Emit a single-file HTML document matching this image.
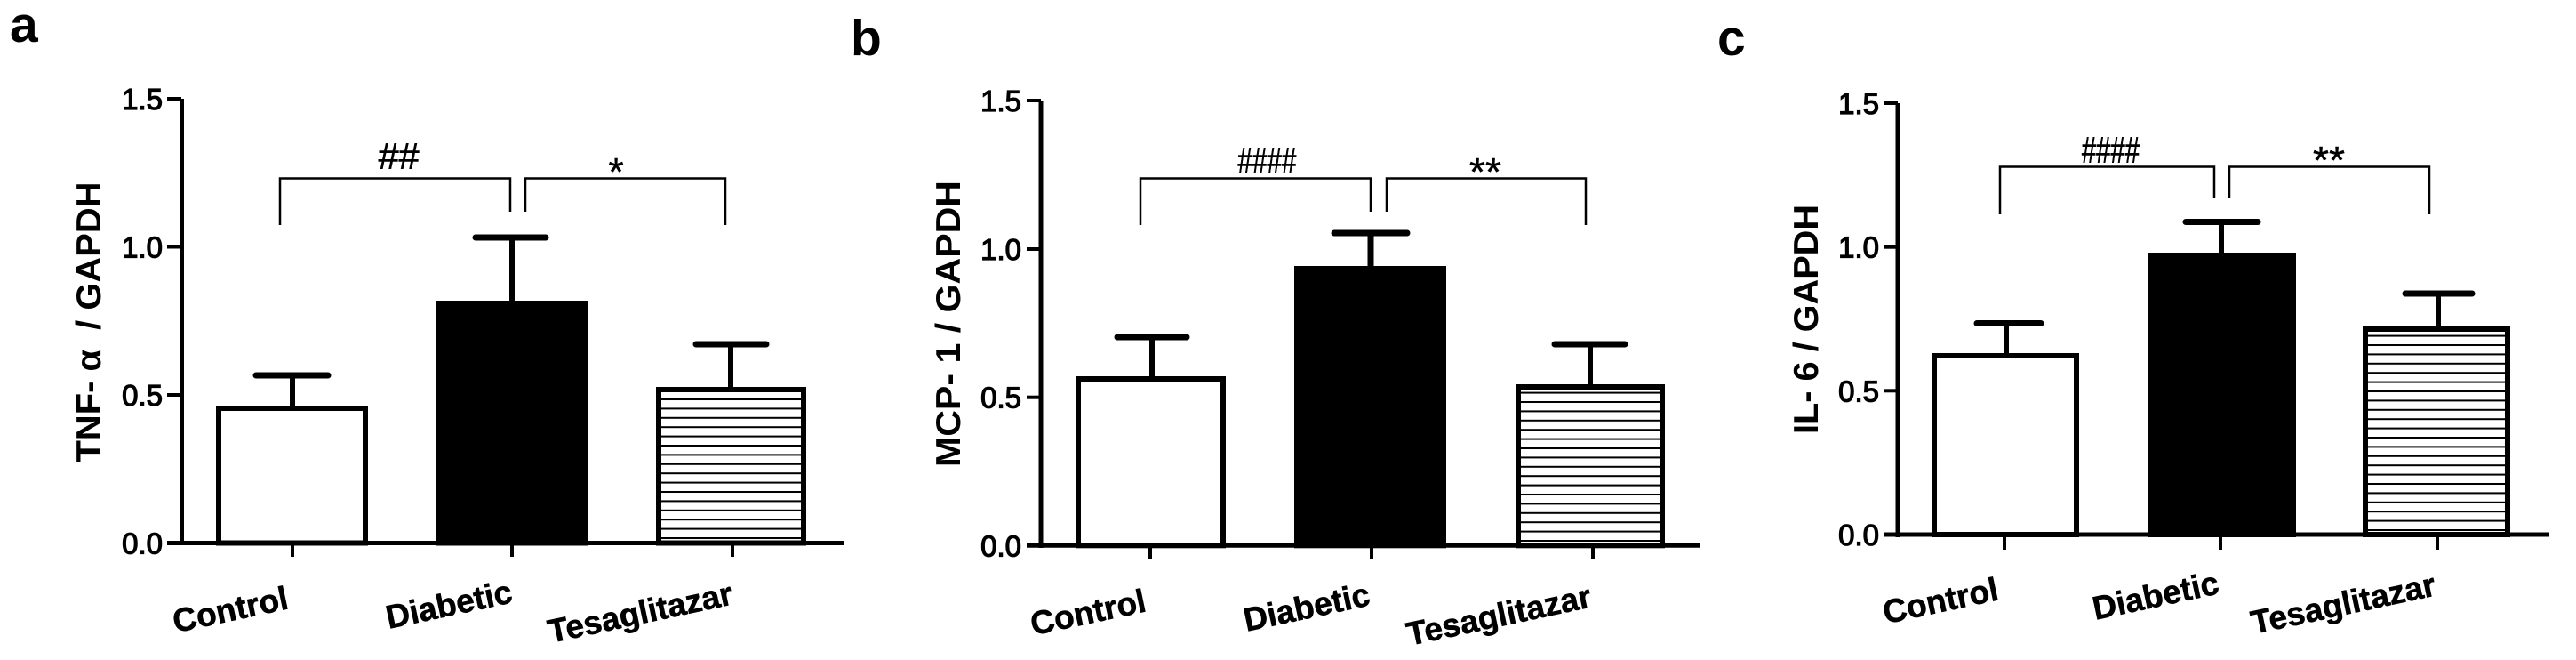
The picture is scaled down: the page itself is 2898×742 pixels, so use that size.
<!DOCTYPE html>
<html>
<head>
<meta charset="utf-8">
<style>
html,body{margin:0;padding:0;background:#fff;}
svg{display:block;}
text{font-family:"Liberation Sans", Arial, sans-serif;fill:#000;}
.tick{font-size:33px;stroke:#000;stroke-width:1.2px;}
.xl{font-size:37px;font-weight:bold;stroke:#000;stroke-width:0.6px;}
.yt{font-size:39px;font-weight:bold;}
.pl{font-size:57px;font-weight:bold;}
.hash{font-size:42px;font-style:italic;stroke:#000;stroke-width:0.6px;}
.ast{font-size:44px;stroke:#000;stroke-width:0.5px;}
</style>
</head>
<body>
<svg width="2898" height="742" viewBox="0 0 2898 742" xmlns="http://www.w3.org/2000/svg">
<defs>
  <pattern id="ha" patternUnits="userSpaceOnUse" x="0" y="604" width="20" height="10.4">
    <rect x="0" y="0" width="20" height="2" fill="#000"/>
  </pattern>
  <pattern id="hb" patternUnits="userSpaceOnUse" x="0" y="607" width="20" height="10.4">
    <rect x="0" y="0" width="20" height="2" fill="#000"/>
  </pattern>
  <pattern id="hc" patternUnits="userSpaceOnUse" x="0" y="595" width="20" height="10.4">
    <rect x="0" y="0" width="20" height="2" fill="#000"/>
  </pattern>
</defs>
<rect width="2898" height="742" fill="#fff"/>

<!-- ================= Panel a ================= -->
<text class="pl" x="11" y="47">a</text>
<text class="yt" transform="translate(113,362) rotate(-90)" text-anchor="middle" textLength="315" lengthAdjust="spacingAndGlyphs" xml:space="preserve">TNF- α  / GAPDH</text>
<g stroke="#000" fill="none">
  <line x1="204.5" y1="111" x2="204.5" y2="613" stroke-width="5"/>
  <line x1="188" y1="610.5" x2="949" y2="610.5" stroke-width="5"/>
  <line x1="188" y1="111" x2="204" y2="111" stroke-width="4"/>
  <line x1="188" y1="277.5" x2="204" y2="277.5" stroke-width="4"/>
  <line x1="188" y1="444" x2="204" y2="444" stroke-width="4"/>
  <line x1="329" y1="610" x2="329" y2="626" stroke-width="4"/>
  <line x1="576" y1="610" x2="576" y2="626" stroke-width="4"/>
  <line x1="824" y1="610" x2="824" y2="626" stroke-width="4"/>
  <polyline points="315,253 315,200.5 574,200.5 574,238" stroke-width="2.5"/>
  <polyline points="591,238 591,200.5 816,200.5 816,253" stroke-width="2.5"/>
  <line x1="329" y1="458" x2="329" y2="422" stroke-width="6"/>
  <line x1="288" y1="422" x2="369" y2="422" stroke-width="7" stroke-linecap="round"/>
  <line x1="576" y1="340" x2="576" y2="267" stroke-width="6"/>
  <line x1="535" y1="267" x2="614" y2="267" stroke-width="7" stroke-linecap="round"/>
  <line x1="822" y1="437" x2="822" y2="387" stroke-width="6"/>
  <line x1="783" y1="387" x2="862" y2="387" stroke-width="7" stroke-linecap="round"/>
</g>
<rect x="246" y="459" width="165" height="151.5" fill="#fff" stroke="#000" stroke-width="6"/>
<rect x="493" y="341" width="166" height="269.5" fill="#000" stroke="#000" stroke-width="6"/>
<rect x="741" y="438" width="163" height="172.5" fill="#fff"/>
<rect x="741" y="438" width="163" height="172.5" fill="url(#ha)" stroke="#000" stroke-width="6"/>
<text class="tick" x="183" y="123" text-anchor="end">1.5</text>
<text class="tick" x="183" y="289.5" text-anchor="end">1.0</text>
<text class="tick" x="183" y="456" text-anchor="end">0.5</text>
<text class="tick" x="183" y="622.5" text-anchor="end">0.0</text>
<text class="hash" x="448" y="190" text-anchor="middle" textLength="46" lengthAdjust="spacingAndGlyphs">##</text>
<text class="ast" x="693" y="208" text-anchor="middle">*</text>
<text class="xl" text-anchor="end" transform="translate(326,684) rotate(-12)">Control</text>
<text class="xl" text-anchor="end" transform="translate(578,677) rotate(-12)">Diabetic</text>
<text class="xl" text-anchor="end" transform="translate(826,679) rotate(-12)">Tesaglitazar</text>

<!-- ================= Panel b ================= -->
<text class="pl" x="957" y="62">b</text>
<text class="yt" transform="translate(1080,364) rotate(-90)" text-anchor="middle" textLength="322" lengthAdjust="spacingAndGlyphs" xml:space="preserve">MCP- 1 / GAPDH</text>
<g stroke="#000" fill="none">
  <line x1="1171" y1="113" x2="1171" y2="616" stroke-width="5"/>
  <line x1="1155" y1="613.3" x2="1912" y2="613.3" stroke-width="5"/>
  <line x1="1155" y1="113" x2="1171" y2="113" stroke-width="4"/>
  <line x1="1155" y1="280" x2="1171" y2="280" stroke-width="4"/>
  <line x1="1155" y1="446.7" x2="1171" y2="446.7" stroke-width="4"/>
  <line x1="1294" y1="613" x2="1294" y2="629" stroke-width="4"/>
  <line x1="1543" y1="613" x2="1543" y2="629" stroke-width="4"/>
  <line x1="1792" y1="613" x2="1792" y2="629" stroke-width="4"/>
  <polyline points="1283,253 1283,200.5 1542,200.5 1542,238" stroke-width="2.5"/>
  <polyline points="1560,238 1560,200.5 1784,200.5 1784,253" stroke-width="2.5"/>
  <line x1="1296" y1="425" x2="1296" y2="379" stroke-width="6"/>
  <line x1="1257" y1="379" x2="1335" y2="379" stroke-width="7" stroke-linecap="round"/>
  <line x1="1542" y1="301" x2="1542" y2="262" stroke-width="7"/>
  <line x1="1501" y1="262" x2="1583" y2="262" stroke-width="7" stroke-linecap="round"/>
  <line x1="1789" y1="434" x2="1789" y2="387" stroke-width="6"/>
  <line x1="1749" y1="387" x2="1828" y2="387" stroke-width="7" stroke-linecap="round"/>
</g>
<rect x="1213" y="426" width="163" height="187.3" fill="#fff" stroke="#000" stroke-width="6"/>
<rect x="1459" y="302" width="165" height="311.3" fill="#000" stroke="#000" stroke-width="6"/>
<rect x="1708" y="435" width="162" height="178.3" fill="#fff"/>
<rect x="1708" y="435" width="162" height="178.3" fill="url(#hb)" stroke="#000" stroke-width="6"/>
<text class="tick" x="1149" y="125" text-anchor="end">1.5</text>
<text class="tick" x="1149" y="292" text-anchor="end">1.0</text>
<text class="tick" x="1149" y="458.7" text-anchor="end">0.5</text>
<text class="tick" x="1149" y="625.3" text-anchor="end">0.0</text>
<text class="hash" x="1425" y="195" text-anchor="middle" textLength="66" lengthAdjust="spacingAndGlyphs">####</text>
<text class="ast" x="1671" y="208" text-anchor="middle" textLength="36" lengthAdjust="spacingAndGlyphs">**</text>
<text class="xl" text-anchor="end" transform="translate(1291,687) rotate(-12)">Control</text>
<text class="xl" text-anchor="end" transform="translate(1543,680) rotate(-12)">Diabetic</text>
<text class="xl" text-anchor="end" transform="translate(1792,682) rotate(-12)">Tesaglitazar</text>

<!-- ================= Panel c ================= -->
<text class="pl" x="1932" y="62">c</text>
<text class="yt" transform="translate(2045,359) rotate(-90)" text-anchor="middle" textLength="258" lengthAdjust="spacingAndGlyphs" xml:space="preserve">IL- 6 / GAPDH</text>
<g stroke="#000" fill="none">
  <line x1="2135" y1="116" x2="2135" y2="604" stroke-width="5"/>
  <line x1="2119" y1="601" x2="2868" y2="601" stroke-width="5"/>
  <line x1="2119" y1="116" x2="2135" y2="116" stroke-width="4"/>
  <line x1="2119" y1="277.7" x2="2135" y2="277.7" stroke-width="4"/>
  <line x1="2119" y1="439.3" x2="2135" y2="439.3" stroke-width="4"/>
  <line x1="2255" y1="601" x2="2255" y2="618" stroke-width="4"/>
  <line x1="2498" y1="601" x2="2498" y2="618" stroke-width="4"/>
  <line x1="2742" y1="601" x2="2742" y2="618" stroke-width="4"/>
  <polyline points="2250,241 2250,187.5 2491,187.5 2491,223" stroke-width="2.5"/>
  <polyline points="2508,223 2508,187.5 2733,187.5 2733,241" stroke-width="2.5"/>
  <line x1="2257" y1="399" x2="2257" y2="363.5" stroke-width="6"/>
  <line x1="2224" y1="363.5" x2="2296" y2="363.5" stroke-width="7" stroke-linecap="round"/>
  <line x1="2499" y1="286" x2="2499" y2="249.5" stroke-width="6"/>
  <line x1="2459" y1="249.5" x2="2540" y2="249.5" stroke-width="7" stroke-linecap="round"/>
  <line x1="2743" y1="369" x2="2743" y2="330" stroke-width="6"/>
  <line x1="2706" y1="330" x2="2781" y2="330" stroke-width="7" stroke-linecap="round"/>
</g>
<rect x="2176" y="400" width="160" height="201" fill="#fff" stroke="#000" stroke-width="6"/>
<rect x="2419" y="287" width="161" height="314" fill="#000" stroke="#000" stroke-width="6"/>
<rect x="2661" y="370" width="160" height="231" fill="#fff"/>
<rect x="2661" y="370" width="160" height="231" fill="url(#hc)" stroke="#000" stroke-width="6"/>
<text class="tick" x="2114" y="128" text-anchor="end">1.5</text>
<text class="tick" x="2114" y="289.7" text-anchor="end">1.0</text>
<text class="tick" x="2114" y="451.3" text-anchor="end">0.5</text>
<text class="tick" x="2114" y="613" text-anchor="end">0.0</text>
<text class="hash" x="2374" y="183" text-anchor="middle" textLength="65" lengthAdjust="spacingAndGlyphs">####</text>
<text class="ast" x="2620" y="195" text-anchor="middle" textLength="36" lengthAdjust="spacingAndGlyphs">**</text>
<text class="xl" text-anchor="end" transform="translate(2250,674) rotate(-12)">Control</text>
<text class="xl" text-anchor="end" transform="translate(2498,667) rotate(-12)">Diabetic</text>
<text class="xl" text-anchor="end" transform="translate(2742,669) rotate(-12)">Tesaglitazar</text>
</svg>
</body>
</html>
